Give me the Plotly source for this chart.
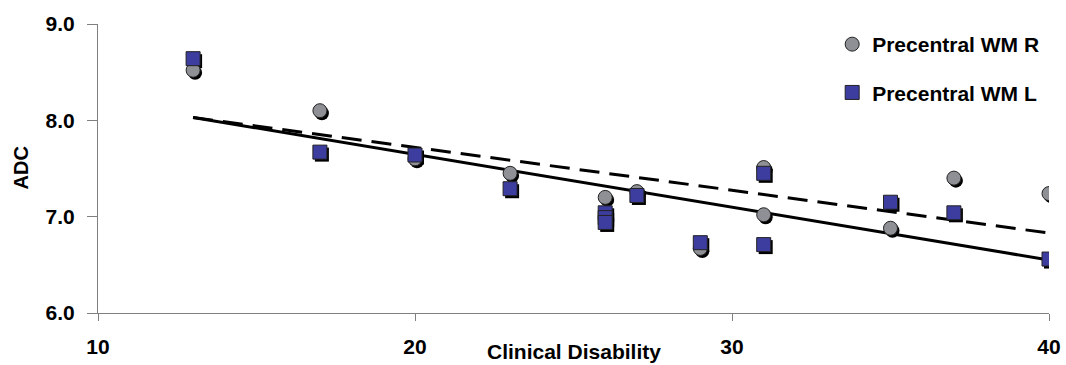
import plotly.graph_objects as go

# Data
r_x = [13, 17, 20, 23, 26, 27, 29, 31, 31, 35, 37, 40]
r_y = [8.52, 8.10, 7.60, 7.45, 7.20, 7.26, 6.67, 7.51, 7.02, 6.88, 7.40, 7.24]
l_x = [13, 17, 20, 23, 26, 26, 26, 27, 29, 31, 31, 35, 37, 40]
l_y = [8.64, 7.67, 7.64, 7.29, 7.04, 6.99, 6.94, 7.22, 6.73, 7.45, 6.71, 7.15, 7.04, 6.56]
trend_x = [13, 40]
trend_r_y = [8.03, 6.83]
trend_l_y = [8.03, 6.55]

x_ticks = [10, 20, 30, 40]
y_ticks = [6.0, 7.0, 8.0, 9.0]
x_range = [10, 40]
y_range = [6, 9]

W, H = 1066, 365
ML, MR, MT, MB = 98, 17, 24, 52
pw, ph = W - ML - MR, H - MT - MB
# shadow offset in pixels, converted through axis scales
sx, sy = 2.0, 2.5
dx = sx * (x_range[1] - x_range[0]) / pw
dy = sy * (y_range[1] - y_range[0]) / ph

FONT = "Arial, 'Liberation Sans', sans-serif"
GREY = "#8e9095"
BLUE = "#3d3d9f"
MS = 14

fig = go.Figure()

# trend lines (main axes, bottom layer)
fig.add_trace(go.Scatter(x=trend_x, y=trend_r_y, mode="lines",
                         line=dict(color="black", width=3, dash="20px,10px"),
                         showlegend=False, hoverinfo="skip"))
fig.add_trace(go.Scatter(x=trend_x, y=trend_l_y, mode="lines",
                         line=dict(color="black", width=3),
                         showlegend=False, hoverinfo="skip"))

# shadows on shifted overlay axes (x2/y2)
fig.add_trace(go.Scatter(x=r_x, y=r_y, mode="markers", xaxis="x2", yaxis="y2",
                         marker=dict(symbol="circle", size=MS, color="black"),
                         showlegend=False, hoverinfo="skip"))
fig.add_trace(go.Scatter(x=l_x, y=l_y, mode="markers", xaxis="x2", yaxis="y2",
                         marker=dict(symbol="square", size=MS, color="black"),
                         showlegend=False, hoverinfo="skip"))

# markers on top overlay axes (x3/y3, same range as main)
fig.add_trace(go.Scatter(x=r_x, y=r_y, mode="markers", xaxis="x3", yaxis="y3",
                         marker=dict(symbol="circle", size=MS, color=GREY,
                                     line=dict(color="#222", width=1)),
                         name="Precentral WM R", legendgroup="r"))
fig.add_trace(go.Scatter(x=l_x, y=l_y, mode="markers", xaxis="x3", yaxis="y3",
                         marker=dict(symbol="square", size=MS, color=BLUE,
                                     line=dict(color="#222", width=1)),
                         name="Precentral WM L", legendgroup="l"))

hidden = dict(visible=False, showgrid=False, zeroline=False)
fig.update_layout(
    width=W, height=H,
    margin=dict(l=ML, r=MR, t=MT, b=MB, autoexpand=False),
    plot_bgcolor="white", paper_bgcolor="white",
    font=dict(family=FONT, size=18, color="black"),
    xaxis=dict(range=x_range, tickvals=x_ticks, ticktext=[str(v) for v in x_ticks],
               showgrid=False, zeroline=False, showline=True, linecolor="#808080",
               linewidth=1, ticks="outside", ticklen=7, tickcolor="#808080",
               ticklabelstandoff=8, automargin=False,
               tickfont=dict(family=FONT, size=21, color="black", weight="bold")),
    yaxis=dict(range=y_range, tickvals=y_ticks, ticktext=[f"{v:.1f}" for v in y_ticks],
               showgrid=False, zeroline=False, showline=True, linecolor="#808080",
               linewidth=1, ticks="outside", ticklen=10, tickcolor="#808080",
               ticklabelstandoff=8, automargin=False,
               tickfont=dict(family=FONT, size=21, color="black", weight="bold")),
    xaxis2=dict(range=[x_range[0] - dx, x_range[1] - dx], overlaying="x", **hidden),
    yaxis2=dict(range=[y_range[0] + dy, y_range[1] + dy], overlaying="y", **hidden),
    xaxis3=dict(range=x_range, overlaying="x", **hidden),
    yaxis3=dict(range=y_range, overlaying="y", **hidden),
    legend=dict(x=0.772, xanchor="left", y=1.0, yanchor="top",
                bgcolor="rgba(0,0,0,0)", tracegroupgap=18, itemwidth=30,
                font=dict(family=FONT, size=21, color="black", weight="bold")),
    showlegend=True,
)

# x title, kept just inside the bottom edge
fig.add_annotation(text="<b>Clinical Disability</b>", xref="paper", yref="paper",
                   x=0.5, y=-(351 - (H - MB)) / ph, xanchor="center", yanchor="middle",
                   showarrow=False, font=dict(family=FONT, size=21, color="black"))
fig.add_annotation(text="<b>ADC</b>", xref="paper", yref="paper",
                   x=-(ML - 20) / pw, y=0.5, xanchor="center", yanchor="middle",
                   textangle=-90, showarrow=False,
                   font=dict(family=FONT, size=20, color="black"))

fig.write_html("out.html")
